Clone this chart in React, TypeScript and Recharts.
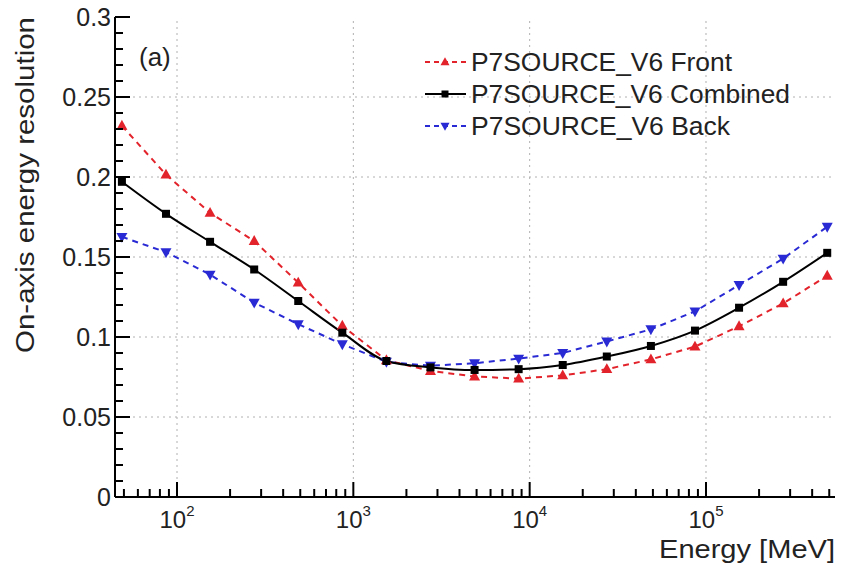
import { LineChart, Line, XAxis, YAxis, ReferenceLine, Legend, Customized } from 'recharts';

// bin centres, MeV (0.25 decade steps)
const energies = [48.7, 86.6, 154, 274, 487, 866, 1540, 2738, 4870, 8660, 15400, 27380, 48700, 86600, 154000, 273800, 487000];

const frontValues = [0.232, 0.2015, 0.1776, 0.16, 0.134, 0.107, 0.0855, 0.0788, 0.0753, 0.074, 0.076, 0.0799, 0.086, 0.094, 0.1067, 0.121, 0.1383];
const combinedValues = [0.197, 0.177, 0.1595, 0.1422, 0.1225, 0.1027, 0.085, 0.081, 0.0794, 0.0799, 0.0825, 0.0878, 0.0944, 0.104, 0.1183, 0.1345, 0.1526];
const backValues = [0.1626, 0.153, 0.139, 0.1215, 0.108, 0.0955, 0.0845, 0.082, 0.0836, 0.0865, 0.09, 0.0972, 0.1048, 0.116, 0.1325, 0.149, 0.1689];

const xMajorTicks = [100, 1000, 10000, 100000];
const xMinorTicks = [50, 60, 70, 80, 90, 200, 300, 400, 500, 600, 700, 800, 900, 2000, 3000, 4000, 5000, 6000, 7000, 8000, 9000,
  20000, 30000, 40000, 50000, 60000, 70000, 80000, 90000, 200000, 300000, 400000, 500000];
const yMajorTicks = [0, 0.05, 0.1, 0.15, 0.2, 0.25, 0.3];
const yMinorTicks = [0.01, 0.02, 0.03, 0.04, 0.06, 0.07, 0.08, 0.09, 0.11, 0.12, 0.13, 0.14, 0.16, 0.17, 0.18, 0.19,
  0.21, 0.22, 0.23, 0.24, 0.26, 0.27, 0.28, 0.29];

const data = energies.map((e, i) => ({
  energy: e,
  front: frontValues[i],
  combined: combinedValues[i],
  back: backValues[i],
}));

const RED = '#e3232b';
const BLUE = '#2a2ad4';
const FONT = '"Liberation Sans", Arial, Helvetica, sans-serif';
const xTicks = [...xMinorTicks, ...xMajorTicks].sort((a, b) => a - b);
const yTicks = [...yMinorTicks, ...yMajorTicks].sort((a, b) => a - b);
const X_DOMAIN = [44.5, 539000];

const isXMajor = (v: number) => xMajorTicks.includes(v);
const isYMajor = (v: number) => yMajorTicks.some((m) => Math.abs(m - v) < 1e-6);

const BottomTick = ({ x, y, payload }: any) => {
  const v = payload.value;
  const major = isXMajor(v);
  return (
    <g>
      <line x1={x} x2={x} y1={y} y2={y - (major ? 15 : 8)} stroke="#000" strokeWidth={2} />
      {major && (
        <text x={x} y={y + 31} textAnchor="middle" fontSize={24} fontFamily={FONT} fill="#222">
          10<tspan dy={-12} fontSize={15}>{Math.round(Math.log10(v))}</tspan>
        </text>
      )}
    </g>
  );
};

const TopTick = ({ x, y, payload }: any) => {
  const major = isXMajor(payload.value);
  return <line x1={x} x2={x} y1={y} y2={y + (major ? 15 : 8)} stroke="#000" strokeWidth={2} />;
};

const LeftTick = ({ x, y, payload }: any) => {
  const v = payload.value;
  const major = isYMajor(v);
  return (
    <g>
      <line x1={x} x2={x + (major ? 15 : 8)} y1={y} y2={y} stroke="#000" strokeWidth={2} />
      {major && (
        <text x={x - 4} y={y} dy="0.36em" textAnchor="end" fontSize={25} fontFamily={FONT} fill="#222">
          {String(Math.round(v * 100) / 100)}
        </text>
      )}
    </g>
  );
};

const RightTick = ({ x, y, payload }: any) => {
  const major = isYMajor(payload.value);
  return <line x1={x} x2={x - (major ? 15 : 8)} y1={y} y2={y} stroke="#000" strokeWidth={2} />;
};

const UpTriangle = ({ cx, cy, fill, size = 11 }: any) => {
  if (cx == null || cy == null) return null;
  const h = size * 0.9;
  return <polygon points={`${cx},${cy - h * 0.6} ${cx - size / 2},${cy + h * 0.4} ${cx + size / 2},${cy + h * 0.4}`} fill={fill} />;
};

const DownTriangle = ({ cx, cy, fill, size = 11 }: any) => {
  if (cx == null || cy == null) return null;
  const h = size * 0.9;
  return <polygon points={`${cx},${cy + h * 0.6} ${cx - size / 2},${cy - h * 0.4} ${cx + size / 2},${cy - h * 0.4}`} fill={fill} />;
};

const Square = ({ cx, cy, fill, size = 8 }: any) => {
  if (cx == null || cy == null) return null;
  return <rect x={cx - size / 2} y={cy - size / 2} width={size} height={size} fill={fill} />;
};

const legendRows = [
  { label: 'P7SOURCE_V6 Front', color: RED, dash: '5 4', marker: 'up', width: 261 },
  { label: 'P7SOURCE_V6 Combined', color: '#000', dash: undefined, marker: 'square', width: 319 },
  { label: 'P7SOURCE_V6 Back', color: BLUE, dash: '5 4', marker: 'down', width: 259 },
];

const renderLegend = () => (
  <svg width={420} height={110}>
    {legendRows.map((row, i) => {
      const cy = 18 + i * 32;
      return (
        <g key={row.label}>
          <line x1={5} x2={46} y1={cy} y2={cy} stroke={row.color} strokeWidth={2} strokeDasharray={row.dash} />
          {row.marker === 'up' && <UpTriangle cx={25} cy={cy} fill={row.color} size={9} />}
          {row.marker === 'down' && <DownTriangle cx={25} cy={cy} fill={row.color} size={9} />}
          {row.marker === 'square' && <Square cx={25} cy={cy} fill={row.color} size={7} />}
          <text x={51} y={cy} dy="0.36em" fontSize={25} fontFamily={FONT} fill="#222"
            textLength={row.width} lengthAdjust="spacingAndGlyphs">
            {row.label}
          </text>
        </g>
      );
    })}
  </svg>
);

const Titles = () => (
  <g fontFamily={FONT} fill="#222">
    <text x={835} y={558} textAnchor="end" fontSize={26} textLength={176} lengthAdjust="spacingAndGlyphs">
      Energy [MeV]
    </text>
    <text x={34} y={17} transform="rotate(-90 34 17)" textAnchor="end" fontSize={26}
      textLength={336} lengthAdjust="spacingAndGlyphs">
      On-axis energy resolution
    </text>
    <text x={139} y={66} fontSize={26}>(a)</text>
  </g>
);

export default function App() {
  return (
    <div style={{ position: 'absolute', left: 0, top: 0, width: 841, height: 569, background: '#fff' }}>
      <LineChart width={841} height={569} data={data} margin={{ top: 17, right: 6, bottom: 0, left: 0 }}>
        <XAxis dataKey="energy" type="number" scale="log" domain={X_DOMAIN} allowDataOverflow ticks={xTicks}
          interval={0} height={72} tickSize={0} tickMargin={0} tickLine={false} tick={<BottomTick />}
          axisLine={{ stroke: '#000', strokeWidth: 2 }} />
        <XAxis xAxisId="top" orientation="top" dataKey="energy" type="number" scale="log" domain={X_DOMAIN}
          allowDataOverflow ticks={xTicks} interval={0} height={0} tickSize={0} tickMargin={0} tickLine={false}
          tick={<TopTick />} axisLine={{ stroke: '#000', strokeWidth: 2 }} />
        <YAxis type="number" domain={[0, 0.3]} allowDataOverflow ticks={yTicks} interval={0} width={115}
          tickSize={0} tickMargin={0} tickLine={false} tick={<LeftTick />} axisLine={{ stroke: '#000', strokeWidth: 2 }} />
        <YAxis yAxisId="right" orientation="right" type="number" domain={[0, 0.3]} allowDataOverflow ticks={yTicks}
          interval={0} width={0} tickSize={0} tickMargin={0} tickLine={false} tick={<RightTick />}
          axisLine={{ stroke: '#000', strokeWidth: 2 }} />

        {xMajorTicks.map((v) => (
          <ReferenceLine key={`gx-${v}`} x={v} stroke="#b0b0b0" strokeWidth={1} strokeDasharray="2 4" />
        ))}
        {yMajorTicks.slice(1, -1).map((v) => (
          <ReferenceLine key={`gy-${v}`} y={v} stroke="#b0b0b0" strokeWidth={1} strokeDasharray="2 4" />
        ))}

        <Line dataKey="front" type="linear" stroke={RED} strokeWidth={2} strokeDasharray="6 5"
          dot={<UpTriangle fill={RED} />} activeDot={false} isAnimationActive={false} />
        <Line dataKey="back" type="linear" stroke={BLUE} strokeWidth={2} strokeDasharray="6 5"
          dot={<DownTriangle fill={BLUE} />} activeDot={false} isAnimationActive={false} />
        <Line dataKey="combined" type="monotone" stroke="#000" strokeWidth={2}
          dot={<Square fill="#000" />} activeDot={false} isAnimationActive={false} />

        <Legend layout="vertical" align="center" verticalAlign="middle" content={renderLegend}
          wrapperStyle={{ position: 'absolute', left: 420, top: 44, width: 420, height: 110 }} />
        <Customized component={Titles} />
      </LineChart>
    </div>
  );
}
